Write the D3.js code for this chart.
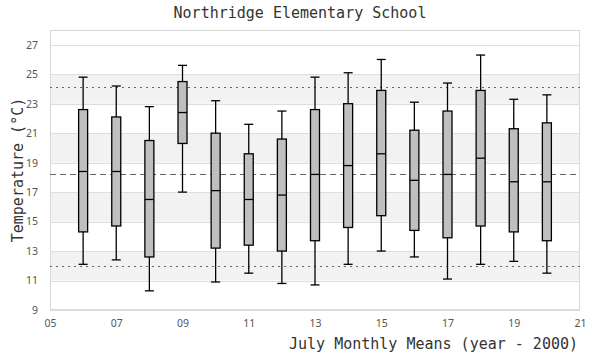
<!DOCTYPE html>
<html>
<head>
<meta charset="utf-8">
<script src="https://cdn.jsdelivr.net/npm/d3@7"></script>
<style>
  body { margin: 0; background: #fff; }
  .tick text { font-family: "Noto Sans", sans-serif; font-size: 10.5px; fill: #555; }
  .title { font-family: "DejaVu Sans Mono", monospace; font-size: 15px; fill: #333; }
</style>
</head>
<body>
<div id="chart"></div>
<script>
// July monthly means, one box per year (year - 2000)
var years      = [6, 7, 8, 9, 10, 11, 12, 13, 14, 15, 16, 17, 18, 19, 20];
var whiskerLow = [12.1, 12.4, 10.3, 17.0, 10.9, 11.5, 10.8, 10.7, 12.1, 13.0, 12.6, 11.1, 12.1, 12.3, 11.5];
var q1         = [14.3, 14.7, 12.6, 20.3, 13.2, 13.4, 13.0, 13.7, 14.6, 15.4, 14.4, 13.9, 14.7, 14.3, 13.7];
var medians    = [18.4, 18.4, 16.5, 22.4, 17.1, 16.5, 16.8, 18.2, 18.8, 19.6, 17.8, 18.2, 19.3, 17.7, 17.7];
var q3         = [22.6, 22.1, 20.5, 24.5, 21.0, 19.6, 20.6, 22.6, 23.0, 23.9, 21.2, 22.5, 23.9, 21.3, 21.7];
var whiskerHigh= [24.8, 24.2, 22.8, 25.6, 23.2, 21.6, 22.5, 24.8, 25.1, 26.0, 23.1, 24.4, 26.3, 23.3, 23.6];

var xTicks = [5, 7, 9, 11, 13, 15, 17, 19, 21];
var yTicks = [9, 11, 13, 15, 17, 19, 21, 23, 25, 27];
var bands  = [[11, 13], [15, 17], [19, 21], [23, 25]];
var refLines = [
  {value: 24.15, dash: "2,4"},
  {value: 18.2, dash: "6,4"},
  {value: 12.0, dash: "2,4"}
];

var width = 600;
var height = 360;
var margin = {top: 30, right: 20, bottom: 50, left: 50};

var x_axis = d3.scaleLinear().domain([5, 21]).range([margin.left, width - margin.right]);
var y_axis = d3.scaleLinear().domain([9, 28]).range([height - margin.bottom, margin.top]);

var svg = d3.select("#chart").append("svg")
  .attr("width", width)
  .attr("height", height);

// alternating bands
svg.selectAll(".band")
  .data(bands)
  .enter().append("rect")
  .attr("class", "band")
  .attr("x", margin.left)
  .attr("width", width - margin.right - margin.left)
  .attr("y", function(d) { return y_axis(d[1]); })
  .attr("height", function(d) { return y_axis(d[0]) - y_axis(d[1]); })
  .attr("fill", "#f2f2f2");

// grid lines
svg.selectAll(".grid")
  .data(yTicks)
  .enter().append("line")
  .attr("class", "grid")
  .attr("x1", margin.left)
  .attr("x2", width - margin.right)
  .attr("y1", function(d) { return Math.round(y_axis(d)) + 0.5; })
  .attr("y2", function(d) { return Math.round(y_axis(d)) + 0.5; })
  .attr("stroke", "#dedede");

// plot frame
svg.append("rect")
  .attr("x", margin.left + 0.5)
  .attr("y", margin.top + 0.5)
  .attr("width", width - margin.right - margin.left - 1)
  .attr("height", height - margin.bottom - margin.top - 1)
  .attr("fill", "none")
  .attr("stroke", "#d8d8d8");

// reference lines
svg.selectAll(".ref")
  .data(refLines)
  .enter().append("line")
  .attr("class", "ref")
  .attr("x1", margin.left)
  .attr("x2", width - margin.right)
  .attr("y1", function(d) { return Math.round(y_axis(d.value)) + 0.5; })
  .attr("y2", function(d) { return Math.round(y_axis(d.value)) + 0.5; })
  .attr("stroke", "#666")
  .attr("stroke-dasharray", function(d) { return d.dash; });

// boxes
var boxData = years.map(function(y, i) {
  return {year: y, lo: whiskerLow[i], q1: q1[i], med: medians[i], q3: q3[i], hi: whiskerHigh[i]};
});

var boxW = 9;
var g = svg.selectAll(".box")
  .data(boxData)
  .enter().append("g")
  .attr("class", "box");

g.append("line")
  .attr("x1", function(d) { return x_axis(d.year); })
  .attr("x2", function(d) { return x_axis(d.year); })
  .attr("y1", function(d) { return y_axis(d.hi); })
  .attr("y2", function(d) { return y_axis(d.lo); })
  .attr("stroke", "#000")
  .attr("stroke-width", 1.3);

g.selectAll(".cap")
  .data(function(d) { return [{x: d.year, v: d.hi}, {x: d.year, v: d.lo}]; })
  .enter().append("line")
  .attr("class", "cap")
  .attr("x1", function(d) { return x_axis(d.x) - boxW / 2; })
  .attr("x2", function(d) { return x_axis(d.x) + boxW / 2; })
  .attr("y1", function(d) { return y_axis(d.v); })
  .attr("y2", function(d) { return y_axis(d.v); })
  .attr("stroke", "#000")
  .attr("stroke-width", 1.3);

g.append("rect")
  .attr("x", function(d) { return x_axis(d.year) - boxW / 2; })
  .attr("width", boxW)
  .attr("y", function(d) { return y_axis(d.q3); })
  .attr("height", function(d) { return y_axis(d.q1) - y_axis(d.q3); })
  .attr("fill", "#bfbfbf")
  .attr("stroke", "#000")
  .attr("stroke-width", 1.3);

g.append("line")
  .attr("x1", function(d) { return x_axis(d.year) - boxW / 2; })
  .attr("x2", function(d) { return x_axis(d.year) + boxW / 2; })
  .attr("y1", function(d) { return y_axis(d.med); })
  .attr("y2", function(d) { return y_axis(d.med); })
  .attr("stroke", "#000")
  .attr("stroke-width", 1.3);

// axes
var xAxisG = svg.append("g")
  .attr("transform", "translate(0," + (height - margin.bottom) + ")")
  .call(d3.axisBottom(x_axis).tickValues(xTicks).tickSize(0).tickPadding(10)
    .tickFormat(function(d) { return d < 10 ? "0" + d : "" + d; }));
xAxisG.select(".domain").remove();

var yAxisG = svg.append("g")
  .attr("transform", "translate(" + margin.left + ",0)")
  .call(d3.axisLeft(y_axis).tickValues(yTicks).tickSize(0).tickPadding(12));
yAxisG.select(".domain").remove();

// titles
svg.append("text")
  .attr("class", "title")
  .text("Northridge Elementary School")
  .attr("x", width / 2)
  .attr("y", 18)
  .attr("text-anchor", "middle");

svg.append("text")
  .attr("class", "title")
  .text("July Monthly Means (year - 2000)")
  .attr("x", 578)
  .attr("y", 349)
  .attr("text-anchor", "end");

svg.append("text")
  .attr("class", "title")
  .text("Temperature (°C)")
  .attr("transform", "translate(23," + ((margin.top + height - margin.bottom) / 2) + ") rotate(-90)")
  .attr("text-anchor", "middle");
</script>
</body>
</html>
